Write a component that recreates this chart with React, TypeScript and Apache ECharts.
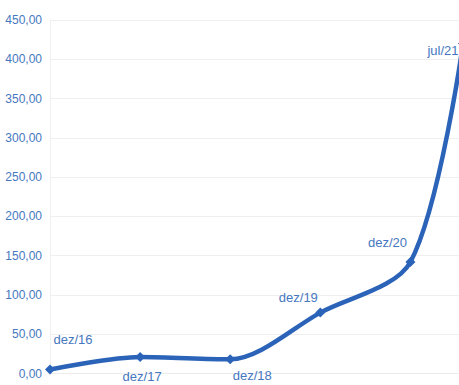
import React, { useEffect, useRef } from "react";
import * as echarts from "echarts";

// Period labels, their position in months from dez/16, and the values
const periods = ["dez/16", "dez/17", "dez/18", "dez/19", "dez/20", "jul/21"];
const monthOffsets = [0, 12, 24, 36, 48, 55];
const values = [5, 21, 18, 77.5, 142, 420];

// Per-point label offsets (px, relative to the marker centre)
const labelOffsets: [number, number][] = [
  [23, -30],
  [2, 19],
  [22, 16],
  [-22, -15],
  [-23, -19],
  [-20, 7],
];

const LINE = "#2b63b9";
const TEXT = "#4677c0";
const FONT = "'Liberation Sans', Arial, sans-serif";

export default function App() {
  const ref = useRef<HTMLDivElement>(null);

  useEffect(() => {
    if (!ref.current) return;
    const chart = echarts.init(ref.current, undefined, { renderer: "svg" });

    const data = periods.map((p, i) => ({
      name: p,
      value: [monthOffsets[i], values[i]],
      label: {
        show: true,
        position: "inside" as const,
        offset: labelOffsets[i],
        formatter: p,
        color: TEXT,
        fontSize: 13,
        fontFamily: FONT,
      },
    }));

    chart.setOption({
      animation: false,
      backgroundColor: "#ffffff",
      grid: { left: 50, right: 17, top: 20, bottom: 11.5, containLabel: false },
      xAxis: {
        type: "value",
        min: 0,
        max: 55,
        axisLabel: { show: false },
        axisTick: { show: false },
        splitLine: { show: false },
        axisLine: { show: true, lineStyle: { color: "#ececec", width: 1 } },
      },
      yAxis: {
        type: "value",
        min: 0,
        max: 450,
        interval: 50,
        axisLabel: {
          color: TEXT,
          fontSize: 12,
          fontFamily: FONT,
          margin: 8,
          formatter: (v: number) => v.toFixed(2).replace(".", ","),
        },
        axisTick: { show: false },
        axisLine: { show: true, lineStyle: { color: "#efefef", width: 1 } },
        splitLine: { show: true, lineStyle: { color: "#efefef", width: 1 } },
      },
      series: [
        {
          type: "line",
          data,
          smooth: 0.3,
          symbol: "diamond",
          symbolSize: 10,
          clip: false,
          itemStyle: { color: LINE },
          lineStyle: { color: LINE, width: 4.5 },
        },
      ],
    });

    return () => chart.dispose();
  }, []);

  return (
    <div
      style={{
        position: "fixed",
        left: 0,
        top: 0,
        width: 459,
        height: 385,
        overflow: "hidden",
        background: "#ffffff",
      }}
    >
      <div ref={ref} style={{ width: 480, height: 385 }} />
    </div>
  );
}
